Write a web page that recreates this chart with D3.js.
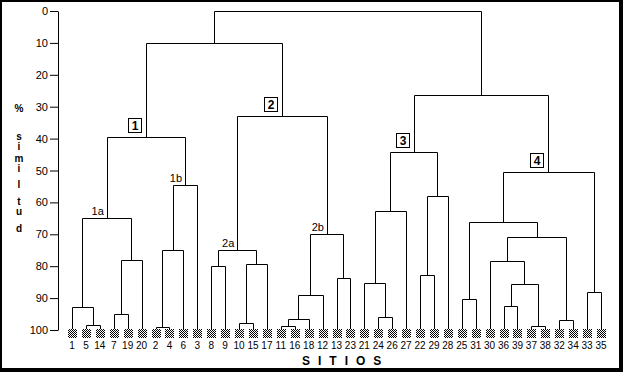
<!DOCTYPE html>
<html>
<head>
<script type="text/javascript" src="https://d3js.org/d3.v7.min.js"></script>
<style>
body { margin:0; background:#fff; }
text { font-family: "Liberation Sans", Arial, sans-serif; }
</style>
</head>
<body>
<div id="chart"></div>
<script type="text/javascript">
(function(){

var w = 623, h = 372;

// leaf order along the bottom
var leaves = ["1","5","14","7","19","20","2","4","6","3","8","9","10","15","17",
              "11","16","18","12","13","23","21","24","26","27","22","29","28",
              "25","31","30","36","39","37","38","32","34","33","35"];

// merges: [node, left child, right child, % similitud]
var merges = [
  ["a1","5","14",98.5], ["a2","1","a1",92.8], ["a3","7","19",95], ["a4","a3","20",78.1],
  ["1a","a2","a4",65],
  ["b1","2","4",99.2], ["b2","b1","6",75], ["1b","b2","3",54.5],
  ["1","1a","1b",39.6],
  ["c1","8","9",80], ["c2","10","15",97.9], ["c3","c2","17",79.4], ["2a","c1","c3",75],
  ["d1","11","16",98.9], ["d2","d1","18",96.5], ["d3","d2","12",89.1], ["d4","13","23",83.8],
  ["2b","d3","d4",70],
  ["2","2a","2b",33],
  ["L","1","2",10],
  ["e1","24","26",95.9], ["e2","21","e1",85.3], ["e3","e2","27",62.7],
  ["e4","22","29",82.8], ["e5","e4","28",58],
  ["3","e3","e5",44.2],
  ["f1","25","31",90.2], ["f2","36","39",92.5], ["f3","37","38",98.7], ["f4","f2","f3",85.6],
  ["f5","30","f4",78.3], ["f6","32","34",96.9], ["f7","f5","f6",70.9], ["f8","f1","f7",66.2],
  ["f9","33","35",88.1],
  ["4","f8","f9",50.5],
  ["R","3","4",26.3],
  ["root","L","R",0]
];

var subLabels = ["1a","1b","2a","2b"];
var groupLabels = ["1","2","3","4"];
var yTicks = [0,10,20,30,40,50,60,70,80,90,100];
var titleLetters = ["s","i","m","i","l","t","u","d"];

// build nested tree from merges
var nodes = {};
leaves.forEach(function(l) { nodes["leaf" + l] = {name: l, value: 100}; });
var rootData;
merges.forEach(function(m) {
  var a = nodes["n" + m[1]] || nodes["leaf" + m[1]];
  var b = nodes["n" + m[2]] || nodes["leaf" + m[2]];
  var nd = {name: m[0], value: m[3], children: [a, b]};
  nodes["n" + m[0]] = nd;
  rootData = nd;
});

var root = d3.hierarchy(rootData);

var x = d3.scalePoint().domain(leaves).range([72, 601]);
var y = d3.scaleLinear().domain([0, 100]).range([11, 330]);

root.eachAfter(function(d) {
  if (d.children) d.px = d3.mean(d.children, function(c) { return c.px; });
  else d.px = x(d.data.name);
  d.py = y(d.data.value);
});
// snap to pixel centres for 1px lines
function sx(v) { return Math.round(v) + 0.5; }
function sy(v) { return Math.round(v) + 0.5; }

var svg = d3.select("#chart").append("svg")
  .attr("width", w).attr("height", h);

var defs = svg.append("defs");
var pat = defs.append("pattern").attr("id", "dots")
  .attr("width", 2).attr("height", 2).attr("patternUnits", "userSpaceOnUse");
pat.append("rect").attr("width", 2).attr("height", 2).attr("fill", "#fff");
pat.append("rect").attr("x", 0).attr("y", 0).attr("width", 1).attr("height", 1).attr("fill", "#000");
pat.append("rect").attr("x", 1).attr("y", 1).attr("width", 1).attr("height", 1).attr("fill", "#000");

// frame
svg.append("rect").attr("width", w).attr("height", h).attr("fill", "#000");
svg.append("rect").attr("x", 2).attr("y", 2).attr("width", 617).attr("height", 366).attr("fill", "#fff");

// axis
var axis = svg.append("g").attr("transform", "translate(58,0)")
  .call(d3.axisLeft(y).tickValues(yTicks).tickSize(8).tickSizeOuter(0).tickPadding(2));
axis.select(".domain").attr("stroke", "#000");
axis.selectAll(".tick line").attr("stroke", "#000");
axis.selectAll(".tick text").attr("font-size", 11).attr("font-family", "Liberation Sans, Arial, sans-serif").attr("fill", "#000");

// dendrogram links
var internal = root.descendants().filter(function(d) { return d.children; });
var g = svg.append("g").attr("stroke", "#000").attr("stroke-width", 1)
  .attr("fill", "none");
internal.forEach(function(d) {
  var a = d.children[0], b = d.children[1];
  g.append("path").attr("d",
    "M" + sx(a.px) + "," + (a.children ? sy(a.py) : 329) + "V" + sy(d.py) +
    "H" + sx(b.px) + "V" + (b.children ? sy(b.py) : 329));
});

// leaf squares
svg.selectAll("rect.leaf").data(root.leaves()).enter().append("rect")
  .attr("class", "leaf")
  .attr("x", function(d) { return Math.round(d.px) - 4; })
  .attr("y", 329).attr("width", 9).attr("height", 9)
  .attr("fill", "url(#dots)");

svg.selectAll("text.leaf").data(root.leaves()).enter().append("text")
  .attr("class", "leaf")
  .attr("x", function(d) { return d.px; })
  .attr("y", 349)
  .attr("text-anchor", "middle").attr("font-size", 10)
  .text(function(d) { return d.data.name; });

// cluster labels
internal.filter(function(d) { return subLabels.indexOf(d.data.name) >= 0; }).forEach(function(d) {
  svg.append("text").attr("x", d.px - 3).attr("y", d.py - 3)
    .attr("text-anchor", "end").attr("font-size", 11).text(d.data.name);
});
internal.filter(function(d) { return groupLabels.indexOf(d.data.name) >= 0; }).forEach(function(d) {
  svg.append("rect").attr("x", Math.round(d.px) - 17.5).attr("y", Math.round(d.py) - 18.5)
    .attr("width", 13).attr("height", 14)
    .attr("fill", "#fff").attr("stroke", "#000").attr("stroke-width", 1);
  svg.append("text").attr("x", Math.round(d.px) - 11).attr("y", Math.round(d.py) - 7)
    .attr("text-anchor", "middle").attr("font-size", 12).attr("font-weight", "bold")
    .text(d.data.name);
});

// titles
svg.append("text").attr("x", 19).attr("y", 112).attr("text-anchor", "middle")
  .attr("font-size", 10).attr("font-weight", "bold").text("%");
var tY = [140, 150, 162, 172, 188, 205, 215, 232];
svg.selectAll("text.yt").data(titleLetters).enter().append("text")
  .attr("class", "yt")
  .attr("x", 19).attr("y", function(d, i) { return tY[i]; })
  .attr("text-anchor", "middle").attr("font-size", 10).attr("font-weight", "bold")
  .text(function(d) { return d; });

svg.append("text").attr("x", 302).attr("y", 365)
  .attr("font-size", 12).attr("font-weight", "bold").attr("letter-spacing", 8)
  .text("SITIOS");

})();
</script>
</body>
</html>
